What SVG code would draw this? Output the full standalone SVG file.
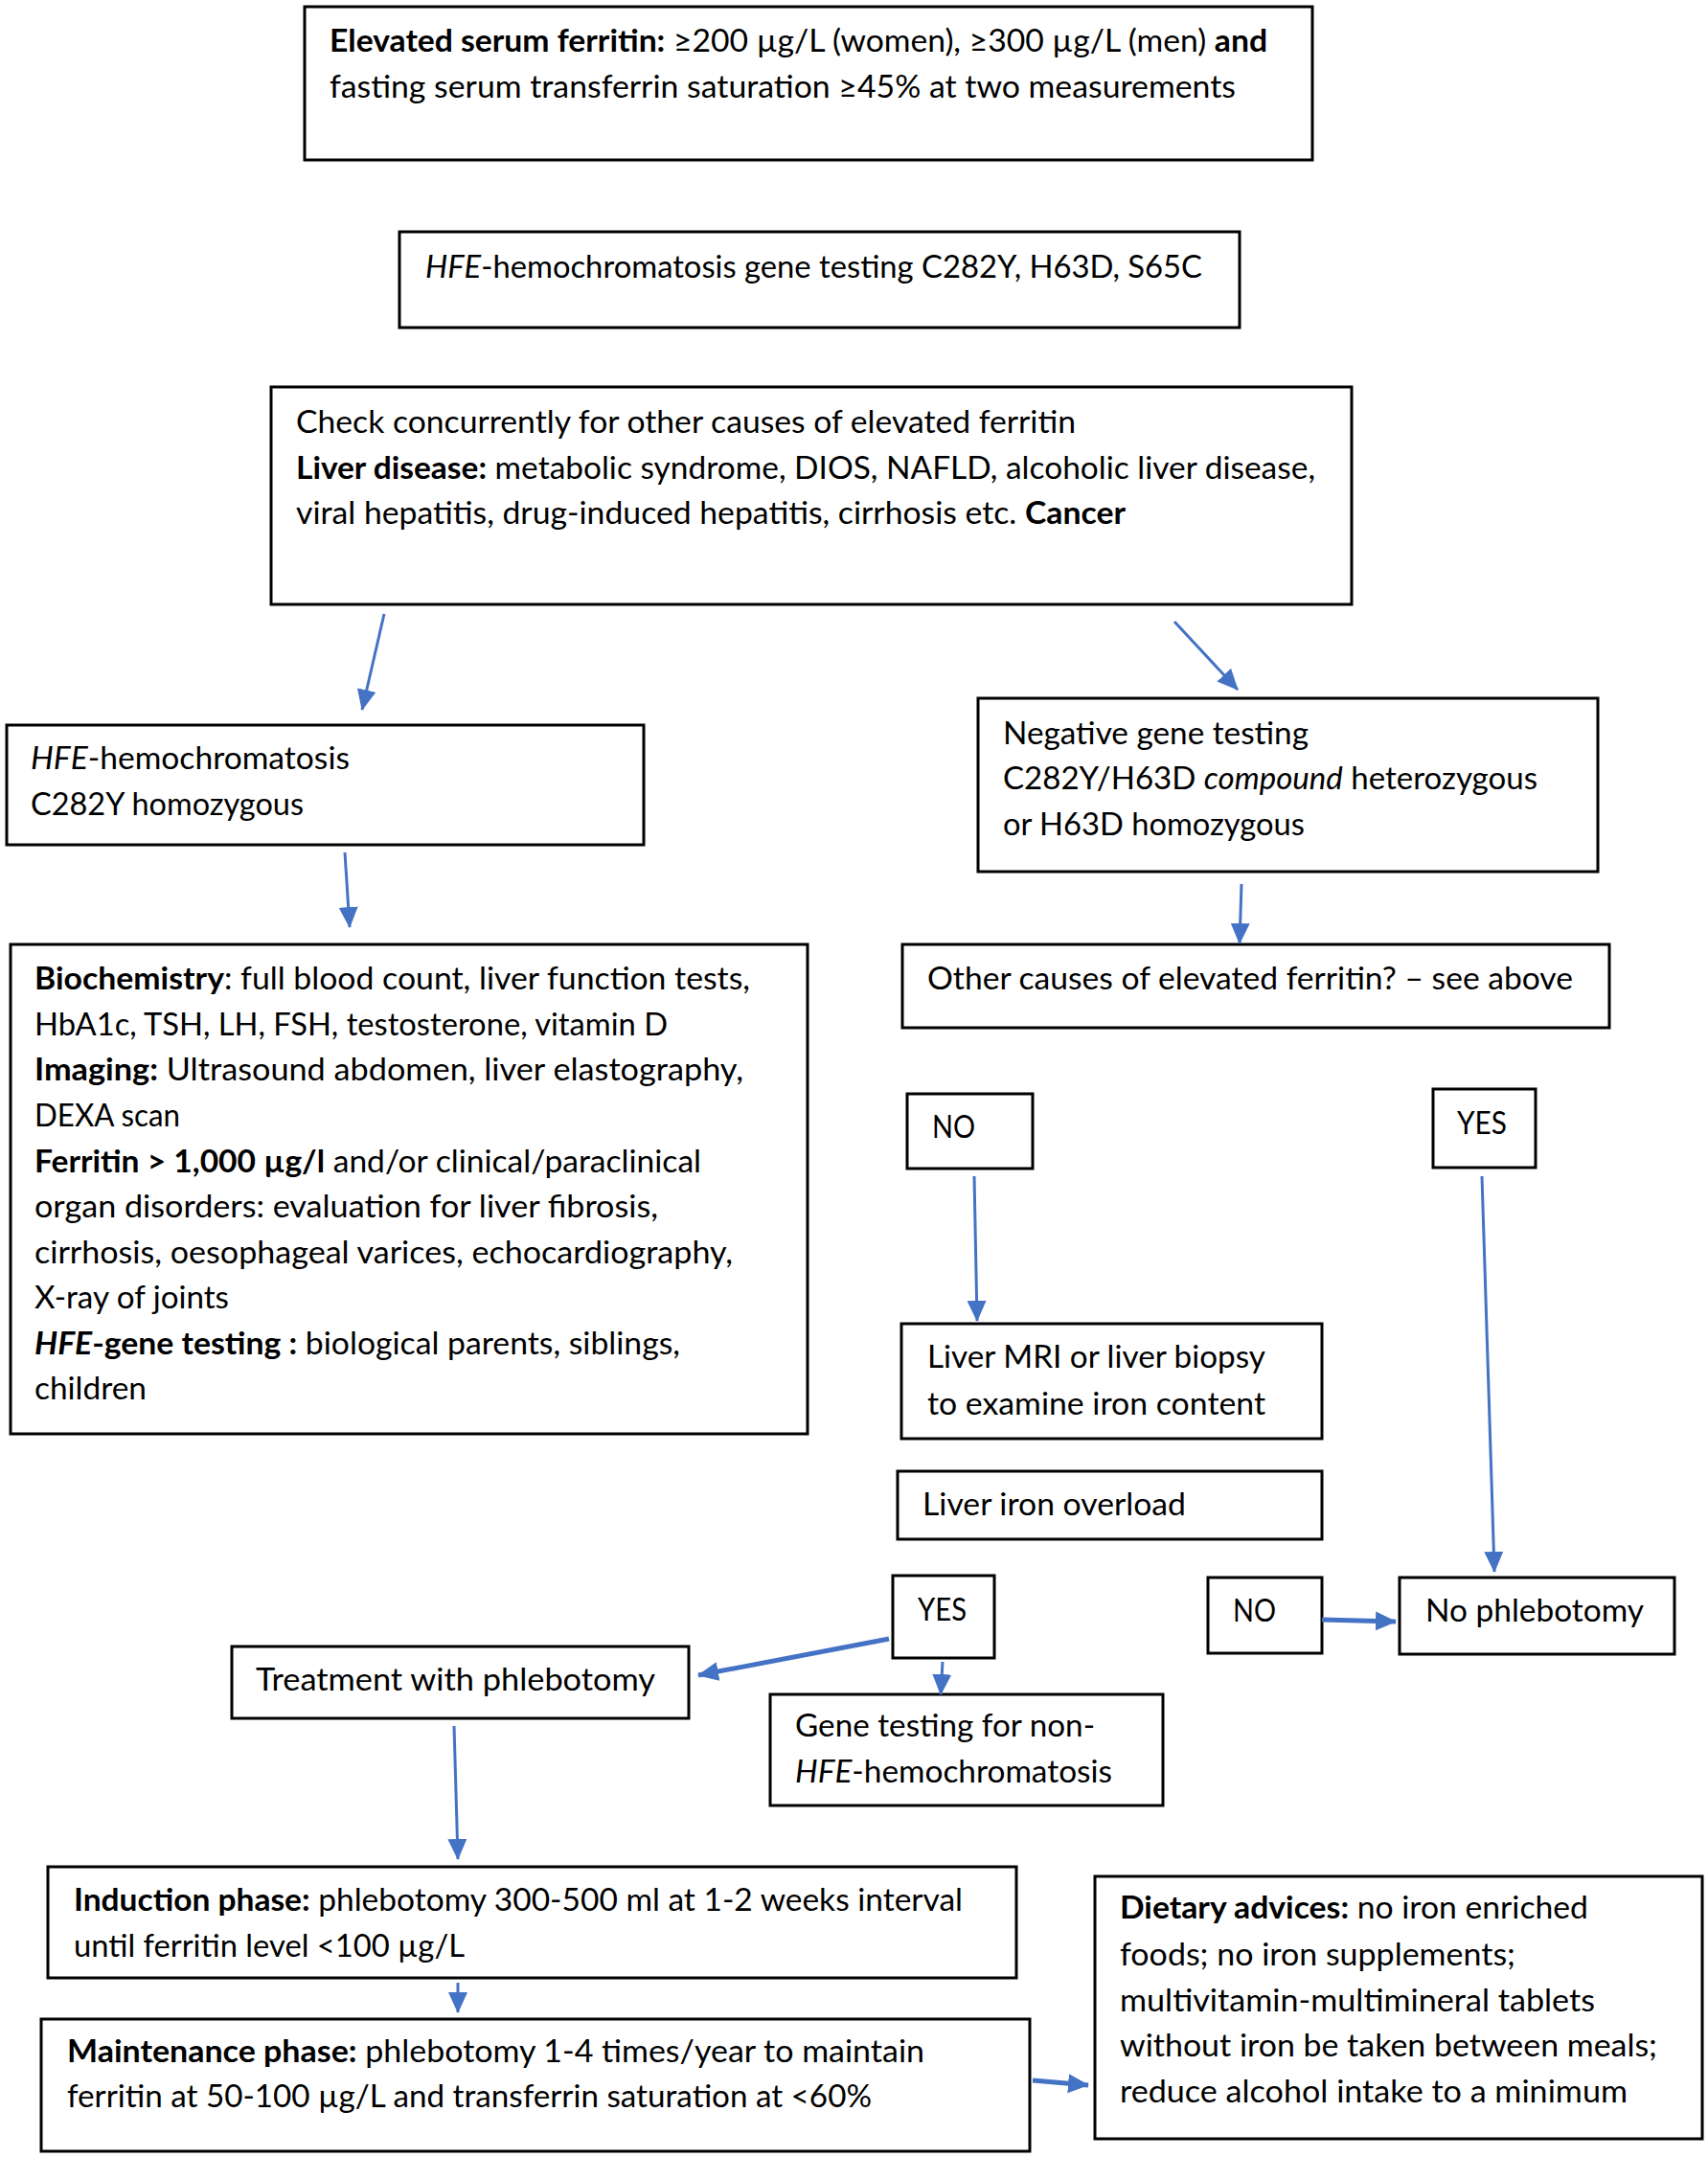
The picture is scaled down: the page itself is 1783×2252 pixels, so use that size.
<svg xmlns="http://www.w3.org/2000/svg" width="1783" height="2252" viewBox="0 0 1783 2252">
<style>
.box{fill:#fff;stroke:#000;stroke-width:3}
.t{font-family:Lato,"Liberation Sans",sans-serif;font-size:33px;fill:#000}
.b{font-weight:bold}
.i{font-style:italic}
.c{fill:none;stroke:#4472C4;stroke-width:3;marker-end:url(#ah)}
.ck{stroke-width:5}
</style>
<defs>
<marker id="ah" markerUnits="userSpaceOnUse" markerWidth="24" markerHeight="22" refX="21" refY="10" orient="auto">
<path d="M0,0 L22,10 L0,20 z" fill="#4472C4"/>
</marker>
</defs>
<rect width="1783" height="2252" fill="#fff"/>

<g id="n1"><rect class="box" x="318" y="7" width="1052" height="160"/>
<text class="t" x="344" y="54" textLength="979" lengthAdjust="spacingAndGlyphs"><tspan class="b">Elevated serum ferritin:</tspan> ≥200 µg/L (women), ≥300 µg/L (men) <tspan class="b">and</tspan></text>
<text class="t" x="344" y="102" textLength="946" lengthAdjust="spacingAndGlyphs">fasting serum transferrin saturation ≥45% at two measurements</text></g>

<g id="n2"><rect class="box" x="417" y="242" width="877" height="100"/>
<text class="t" x="444" y="290" textLength="811" lengthAdjust="spacingAndGlyphs"><tspan class="i">HFE</tspan>-hemochromatosis gene testing C282Y, H63D, S65C</text></g>

<g id="n3"><rect class="box" x="283" y="404" width="1128" height="227"/>
<text class="t" x="309" y="452" textLength="814" lengthAdjust="spacingAndGlyphs">Check concurrently for other causes of elevated ferritin</text>
<text class="t" x="309" y="500" textLength="1064" lengthAdjust="spacingAndGlyphs"><tspan class="b">Liver disease:</tspan> metabolic syndrome, DIOS, NAFLD, alcoholic liver disease,</text>
<text class="t" x="309" y="547" textLength="866" lengthAdjust="spacingAndGlyphs">viral hepatitis, drug-induced hepatitis, cirrhosis etc. <tspan class="b">Cancer</tspan></text></g>

<g id="n4"><rect class="box" x="7" y="757" width="665" height="125"/>
<text class="t" x="32" y="803" textLength="333" lengthAdjust="spacingAndGlyphs"><tspan class="i">HFE</tspan>-hemochromatosis</text>
<text class="t" x="32" y="851" textLength="285" lengthAdjust="spacingAndGlyphs">C282Y homozygous</text></g>

<g id="n5"><rect class="box" x="11" y="986" width="832" height="511"/>
<text class="t" x="36" y="1033" textLength="747" lengthAdjust="spacingAndGlyphs"><tspan class="b">Biochemistry</tspan>: full blood count, liver function tests,</text>
<text class="t" x="36" y="1081" textLength="661" lengthAdjust="spacingAndGlyphs">HbA1c, TSH, LH, FSH, testosterone, vitamin D</text>
<text class="t" x="36" y="1128" textLength="740" lengthAdjust="spacingAndGlyphs"><tspan class="b">Imaging:</tspan> Ultrasound abdomen, liver elastography,</text>
<text class="t" x="36" y="1176" textLength="152" lengthAdjust="spacingAndGlyphs">DEXA scan</text>
<text class="t" x="36" y="1224" textLength="696" lengthAdjust="spacingAndGlyphs"><tspan class="b">Ferritin &gt; 1,000 µg/l</tspan> and/or clinical/paraclinical</text>
<text class="t" x="36" y="1271" textLength="651" lengthAdjust="spacingAndGlyphs">organ disorders: evaluation for liver fibrosis,</text>
<text class="t" x="36" y="1319" textLength="729" lengthAdjust="spacingAndGlyphs">cirrhosis, oesophageal varices, echocardiography,</text>
<text class="t" x="36" y="1366" textLength="203" lengthAdjust="spacingAndGlyphs">X-ray of joints</text>
<text class="t" x="36" y="1414" textLength="674" lengthAdjust="spacingAndGlyphs"><tspan class="b i">HFE</tspan><tspan class="b">-gene testing :</tspan> biological parents, siblings,</text>
<text class="t" x="36" y="1461" textLength="117" lengthAdjust="spacingAndGlyphs">children</text></g>

<g id="n6"><rect class="box" x="1021" y="729" width="647" height="181"/>
<text class="t" x="1047" y="777" textLength="319" lengthAdjust="spacingAndGlyphs">Negative gene testing</text>
<text class="t" x="1047" y="824" textLength="558" lengthAdjust="spacingAndGlyphs">C282Y/H63D <tspan class="i">compound</tspan> heterozygous</text>
<text class="t" x="1047" y="872" textLength="315" lengthAdjust="spacingAndGlyphs">or H63D homozygous</text></g>

<g id="n7"><rect class="box" x="942" y="986" width="738" height="87"/>
<text class="t" x="968" y="1033" textLength="674" lengthAdjust="spacingAndGlyphs">Other causes of elevated ferritin? – see above</text></g>

<g id="n8"><rect class="box" x="947" y="1142" width="131" height="78"/>
<text class="t" x="973" y="1188" textLength="45" lengthAdjust="spacingAndGlyphs">NO</text></g>

<g id="n9"><rect class="box" x="1496" y="1137" width="107" height="82"/>
<text class="t" x="1521" y="1184" textLength="52" lengthAdjust="spacingAndGlyphs">YES</text></g>

<g id="n10"><rect class="box" x="941" y="1382" width="439" height="120"/>
<text class="t" x="968" y="1428" textLength="353" lengthAdjust="spacingAndGlyphs">Liver MRI or liver biopsy</text>
<text class="t" x="968" y="1477" textLength="353" lengthAdjust="spacingAndGlyphs">to examine iron content</text></g>

<g id="n11"><rect class="box" x="937" y="1536" width="443" height="71"/>
<text class="t" x="963" y="1582" textLength="275" lengthAdjust="spacingAndGlyphs">Liver iron overload</text></g>

<g id="n12"><rect class="box" x="932" y="1645" width="106" height="86"/>
<text class="t" x="958" y="1692" textLength="51" lengthAdjust="spacingAndGlyphs">YES</text></g>

<g id="n13"><rect class="box" x="1261" y="1647" width="119" height="79"/>
<text class="t" x="1287" y="1693" textLength="45" lengthAdjust="spacingAndGlyphs">NO</text></g>

<g id="n14"><rect class="box" x="1461" y="1647" width="287" height="80"/>
<text class="t" x="1488" y="1693" textLength="228" lengthAdjust="spacingAndGlyphs">No phlebotomy</text></g>

<g id="n15"><rect class="box" x="242" y="1719" width="477" height="75"/>
<text class="t" x="267" y="1765" textLength="417" lengthAdjust="spacingAndGlyphs">Treatment with phlebotomy</text></g>

<g id="n16"><rect class="box" x="804" y="1769" width="410" height="116"/>
<text class="t" x="830" y="1813" textLength="313" lengthAdjust="spacingAndGlyphs">Gene testing for non-</text>
<text class="t" x="830" y="1861" textLength="331" lengthAdjust="spacingAndGlyphs"><tspan class="i">HFE</tspan>-hemochromatosis</text></g>

<g id="n17"><rect class="box" x="50" y="1949" width="1011" height="116"/>
<text class="t" x="77" y="1995" textLength="928" lengthAdjust="spacingAndGlyphs"><tspan class="b">Induction phase:</tspan> phlebotomy 300-500 ml at 1-2 weeks interval</text>
<text class="t" x="77" y="2043" textLength="408" lengthAdjust="spacingAndGlyphs">until ferritin level &lt;100 µg/L</text></g>

<g id="n18"><rect class="box" x="43" y="2108" width="1032" height="138"/>
<text class="t" x="70" y="2153" textLength="895" lengthAdjust="spacingAndGlyphs"><tspan class="b">Maintenance phase:</tspan> phlebotomy 1-4 times/year to maintain</text>
<text class="t" x="70" y="2200" textLength="840" lengthAdjust="spacingAndGlyphs">ferritin at 50-100 µg/L and transferrin saturation at &lt;60%</text></g>

<g id="n19"><rect class="box" x="1143" y="1959" width="634" height="274"/>
<text class="t" x="1169" y="2003" textLength="489" lengthAdjust="spacingAndGlyphs"><tspan class="b">Dietary advices:</tspan> no iron enriched</text>
<text class="t" x="1169" y="2052" textLength="413" lengthAdjust="spacingAndGlyphs">foods; no iron supplements;</text>
<text class="t" x="1169" y="2100" textLength="496" lengthAdjust="spacingAndGlyphs">multivitamin-multimineral tablets</text>
<text class="t" x="1169" y="2147" textLength="561" lengthAdjust="spacingAndGlyphs">without iron be taken between meals;</text>
<text class="t" x="1169" y="2195" textLength="530" lengthAdjust="spacingAndGlyphs">reduce alcohol intake to a minimum</text></g>

<g id="connectors">
<line class="c" x1="401" y1="641" x2="378" y2="741"/>
<line class="c" x1="1226" y1="649" x2="1292" y2="720"/>
<line class="c" x1="360" y1="890" x2="365" y2="968"/>
<line class="c" x1="1296" y1="923" x2="1294" y2="985"/>
<line class="c" x1="1017" y1="1228" x2="1020" y2="1379"/>
<line class="c" x1="1547" y1="1228" x2="1560" y2="1641"/>
<line class="c ck" x1="1380" y1="1691" x2="1457" y2="1693"/>
<line class="c ck" x1="928" y1="1711" x2="729" y2="1749"/>
<line class="c" x1="984" y1="1735" x2="982" y2="1769"/>
<line class="c" x1="474" y1="1802" x2="478" y2="1941"/>
<line class="c" x1="478" y1="2070" x2="478" y2="2101"/>
<line class="c ck" x1="1078" y1="2172" x2="1136" y2="2177"/>
</g>
</svg>
